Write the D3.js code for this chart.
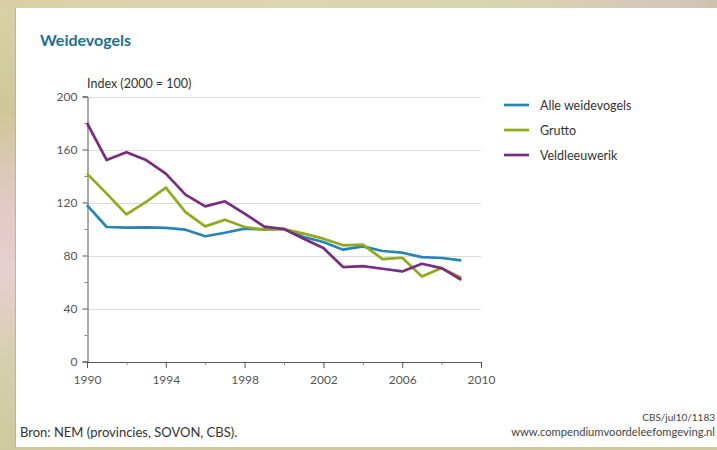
<!DOCTYPE html>
<html><head><meta charset="utf-8">
<script src="https://cdn.jsdelivr.net/npm/d3@7/dist/d3.min.js"></script>
<style>
html,body{margin:0;padding:0;overflow:hidden;}
svg{display:block;font-family:Lato,"Open Sans",sans-serif;}
</style></head>
<body><svg id="c" width="717" height="450"></svg>
<script>
const years = d3.range(1990, 2010);
const seriesNames = ["Alle weidevogels", "Grutto", "Veldleeuwerik"];
const seriesColors = ["#2585b8", "#8fab1c", "#7a2c80"];
const alleWeidevogels = [118, 101.5, 101, 101.3, 100.8, 99.5, 94.5, 97.2, 100.3, 99.7, 100, 94, 90.2, 84.4, 86.9, 83.4, 82.1, 78.8, 78.1, 76.3];
const grutto = [141.8, 126.7, 111, 120.4, 131.2, 112.8, 102, 107, 101.5, 99.5, 100, 96.5, 92.7, 87.7, 88.2, 77.3, 78.3, 64.2, 70.5, 63.2];
const veldleeuwerik = [180, 152, 158, 152, 141.8, 125.9, 117.1, 120.9, 111.6, 101.8, 100, 92.7, 85.6, 71.3, 72, 70, 68, 73.8, 70.5, 61.7];
const yTicks = [0, 40, 80, 120, 160, 200];
const xTicks = [1990, 1994, 1998, 2002, 2006, 2010];

const svg = d3.select("#c");
const defs = svg.append("defs");
const g1 = defs.append("linearGradient").attr("id","bgL").attr("x1",0).attr("y1",0).attr("x2",0).attr("y2",1);
[[0,"#d9d2a8"],[0.25,"#cfc79a"],[0.45,"#e2c9c4"],[0.6,"#e8cfd0"],[0.8,"#d6cfae"],[1,"#cfc9a0"]].forEach(s=>g1.append("stop").attr("offset",s[0]).attr("stop-color",s[1]));
const g2 = defs.append("linearGradient").attr("id","bgT").attr("x1",0).attr("y1",0).attr("x2",1).attr("y2",0);
[[0,"#d8d0a4"],[0.4,"#ddd6b2"],[0.7,"#d9d4b0"],[0.9,"#d6c9b8"],[1,"#cfc3b0"]].forEach(s=>g2.append("stop").attr("offset",s[0]).attr("stop-color",s[1]));
svg.append("rect").attr("width",717).attr("height",450).attr("fill","url(#bgL)");
svg.append("rect").attr("x",0).attr("y",0).attr("width",717).attr("height",9).attr("fill","url(#bgT)");
svg.append("rect").attr("x",16).attr("y",8).attr("width",701).attr("height",439).attr("fill","#ffffff");
svg.append("line").attr("x1",15.5).attr("x2",15.5).attr("y1",8).attr("y2",447).attr("stroke","#b9b4a6").attr("stroke-width",1);

const x = d3.scaleLinear().domain([1990, 2010]).range([87, 481]);
const y = d3.scaleLinear().domain([0, 200]).range([361.5, 96.5]);

// title
svg.append("text").attr("x",40).attr("y",46).text("Weidevogels")
  .attr("font-size",16).attr("font-weight","bold").attr("fill","#1d6f94");
svg.append("text").attr("x",87).attr("y",88).text("Index (2000 = 100)")
  .attr("font-size",12.5).attr("fill","#333");

// gridlines
svg.append("g").selectAll("line").data(yTicks.filter(v=>v>0)).join("line")
  .attr("x1",88).attr("x2",481).attr("y1",d=>Math.round(y(d))+0.5).attr("y2",d=>Math.round(y(d))+0.5)
  .attr("stroke","#dcdcdc").attr("stroke-width",1);

// y axis
const yAxis = d3.axisLeft(y).tickValues(yTicks).tickSize(5).tickPadding(5);
const ya = svg.append("g").attr("transform","translate(87.5,0)").call(yAxis);
ya.select(".domain").attr("stroke","#555");
ya.selectAll(".tick line").attr("stroke","#555");
ya.selectAll("text").attr("font-size",12).attr("fill","#555").attr("font-family","Lato,sans-serif");
const yMinor = d3.axisLeft(y).tickValues([20,60,100,140,180]).tickSize(3).tickFormat("");
const ym = svg.append("g").attr("transform","translate(87.5,0)").call(yMinor);
ym.select(".domain").remove();
ym.selectAll(".tick line").attr("stroke","#888");

// x axis
const xAxis = d3.axisBottom(x).tickValues(xTicks).tickSize(6).tickPadding(7).tickFormat(d3.format("d"));
const xa = svg.append("g").attr("transform","translate(0,362)").call(xAxis);
xa.select(".domain").attr("stroke","#555");
xa.selectAll(".tick line").attr("stroke","#555");
xa.selectAll("text").attr("font-size",12).attr("fill","#555").attr("font-family","Lato,sans-serif");
const xMinor = d3.axisBottom(x).tickValues([1992,1996,2000,2004,2008]).tickSize(3).tickFormat("");
const xm = svg.append("g").attr("transform","translate(0,362)").call(xMinor);
xm.select(".domain").remove();
xm.selectAll(".tick line").attr("stroke","#888");

// lines
const data = [alleWeidevogels, grutto, veldleeuwerik];
const line = d3.line().x((d,i)=>x(years[i])).y(d=>y(d));
[0,1,2].forEach(k=>{
  svg.append("path").datum(data[k]).attr("d",line).attr("fill","none")
    .attr("stroke",seriesColors[k]).attr("stroke-width",2.7).attr("stroke-linejoin","round");
});

// legend
const lg = svg.append("g");
seriesNames.forEach((n,i)=>{
  const yy = 105 + i*25;
  lg.append("line").attr("x1",504).attr("x2",529).attr("y1",yy).attr("y2",yy)
    .attr("stroke",seriesColors[i]).attr("stroke-width",2.7);
  lg.append("text").attr("x",540).attr("y",yy+4.5).text(n).attr("font-size",12.5).attr("fill","#333");
});

// footer
svg.append("text").attr("x",20).attr("y",437).text("Bron: NEM (provincies, SOVON, CBS).")
  .attr("font-size",13).attr("fill","#333");
svg.append("text").attr("x",715).attr("y",421).attr("text-anchor","end").text("CBS/jul10/1183")
  .attr("font-size",10).attr("fill","#444");
svg.append("text").attr("x",715).attr("y",436).attr("text-anchor","end").text("www.compendiumvoordeleefomgeving.nl")
  .attr("font-size",11.2).attr("fill","#444");
</script></body></html>
